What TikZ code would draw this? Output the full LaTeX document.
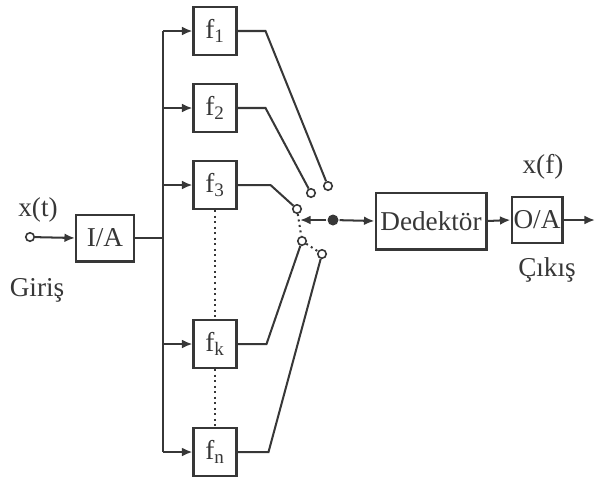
\documentclass[tikz,border=0pt]{standalone}
\usepackage{fontspec}
\setmainfont{Liberation Serif}
\usepackage{tikz}
\usetikzlibrary{arrows.meta, positioning, calc}
\definecolor{inkGray}{RGB}{55, 55, 55}

\begin{document}
\begin{tikzpicture}[x=0.02cm, y=-0.02cm, line width=1.15pt, color=inkGray,
    every node/.style={font=\fontsize{15.5}{18}\selectfont, text=inkGray},
    blok/.style={draw, inner sep=0pt},
    kontak/.style={draw, circle, fill=white, inner sep=0pt, minimum size=0.17cm, line width=0.9pt},
    ok/.style={-{Latex[length=6pt, width=5pt]}}]
    \useasboundingbox (0,0) rectangle (614,478);

    % Input side
    \node[kontak] (giris) at (30,237) {};
    \node[blok, minimum width=1.16cm, minimum height=0.94cm] (ia) at (105,238) {I/A};
    \node (xt) at (38,210) {x(t)};
    \node (girisyazi) at (37,290) {Giriş};
    \draw[ok] (giris) -- (ia.west);

    % Filter bank
    \node[blok, minimum width=0.86cm, minimum height=0.96cm] (f1) at (215,31) {f\textsubscript{1}};
    \node[blok, minimum width=0.86cm, minimum height=0.96cm] (f2) at (215,108) {f\textsubscript{2}};
    \node[blok, minimum width=0.86cm, minimum height=0.96cm] (f3) at (215,185) {f\textsubscript{3}};
    \node[blok, minimum width=0.86cm, minimum height=0.96cm] (fk) at (215,344) {f\textsubscript{k}};
    \node[blok, minimum width=0.86cm, minimum height=0.96cm] (fn) at (215,452) {f\textsubscript{n}};
    \draw[dotted] (f3.south) -- (fk.north);
    \draw[dotted] (fk.south) -- (fn.north);

    % Distribution bus
    \coordinate (bus) at (163,238);
    \draw (ia.east) -- (bus);
    \draw (bus |- f1) -- (bus |- fn);
    \foreach \f in {f1, f2, f3, fk, fn}
        \draw[ok] (bus |- \f) -- (\f.west);

    % Switch contacts
    \node[kontak] (c1) at (328,186) {};
    \node[kontak] (c2) at (311,193) {};
    \node[kontak] (c3) at (297,209) {};
    \node[kontak] (ck) at (302,241) {};
    \node[kontak] (cn) at (322,254) {};
    \draw (f1.east) -- ++(28,0) -- (c1);
    \draw (f2.east) -- ++(28,0) -- (c2);
    \draw (f3.east) -- ++(33,0) -- (c3);
    \draw (fk.east) -- ++(29,0) -- (ck);
    \draw (fn.east) -- ++(31,0) -- (cn);
    \draw[dotted] (c3) -- (ck);
    \draw[dotted] (ck) -- (cn);

    % Detector and output
    \node[blok, minimum width=2.22cm, minimum height=1.14cm] (det) at (431,221) {Dedektör};
    \node[blok, minimum width=1.02cm, minimum height=0.92cm] (oa) at (537,220) {O/A};
    \node[circle, fill=inkGray, inner sep=0pt, minimum size=0.22cm] (pivot) at (333,220) {};
    \coordinate (kol) at (300,220);
    \draw[ok] (pivot) -- (kol);
    \draw[ok] (pivot) -- (det.west);
    \draw[ok] (det.east) -- (oa.west);
    \coordinate (cikis) at (595,220);
    \draw[ok] (oa.east) -- (cikis);
    \node (xf) at (543,167) {x(f)};
    \node (cikisyazi) at (547,270) {Çıkış};
\end{tikzpicture}
\end{document}
